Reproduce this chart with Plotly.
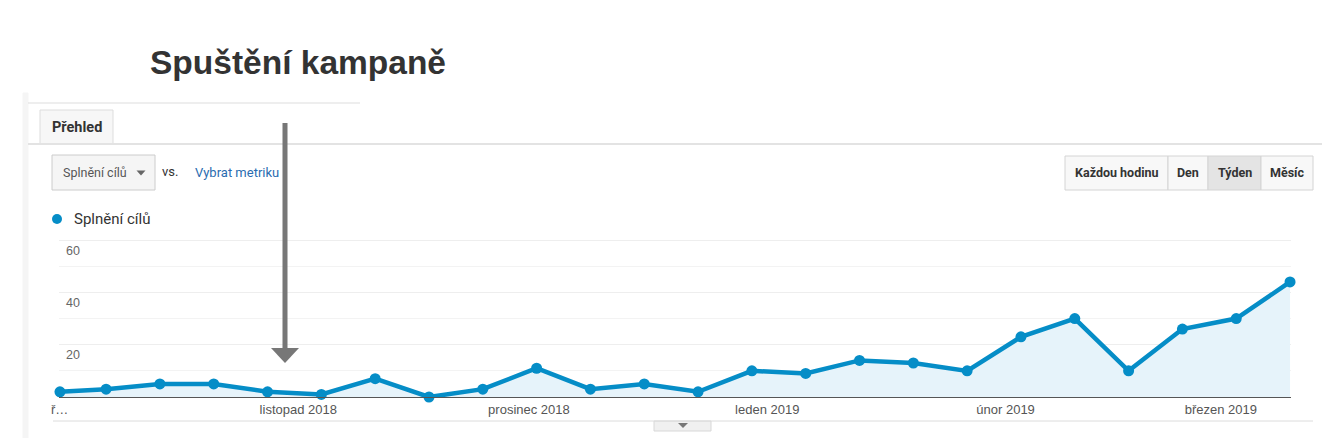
import plotly.graph_objects as go

# weekly data (first point = start of range, then week start dates) - Splnění cílů
weeks = ["2018-10-01", "2018-10-07", "2018-10-14", "2018-10-21", "2018-10-28",
         "2018-11-04", "2018-11-11", "2018-11-18", "2018-11-25", "2018-12-02",
         "2018-12-09", "2018-12-16", "2018-12-23", "2018-12-30", "2019-01-06",
         "2019-01-13", "2019-01-20", "2019-01-27", "2019-02-03", "2019-02-10",
         "2019-02-17", "2019-02-24", "2019-03-03", "2019-03-10"]
goals = [2, 3, 5, 5, 2, 1, 7, 0, 3, 11, 3, 5, 2, 10, 9, 14, 13, 10, 23, 30, 10, 26, 30, 44]

month_ticks = ["2018-10-01", "2018-11-01", "2018-12-01", "2019-01-01", "2019-02-01", "2019-03-01"]
month_labels = ["ř…", "listopad 2018", "prosinec 2018", "leden 2019", "únor 2019", "březen 2019"]
y_ticks = [20, 40, 60]
y_minor = [10, 30, 50]

W, H = 1331, 438
BLUE = "#058dc7"


# pixel -> paper helpers (margins are 0, so paper = whole page)
def px(x):
    return x / W


def py(y):
    return 1 - y / H


fig = go.Figure()
fig.add_trace(go.Scatter(
    x=weeks, y=goals, mode="lines+markers",
    line=dict(color=BLUE, width=4.5),
    marker=dict(color=BLUE, size=11),
    fill="tozeroy", fillcolor="#e6f3fa",
    cliponaxis=False, hoverinfo="x+y",
))

shapes = []
annotations = []


def rect(x0, y0, x1, y1, fill, line="#d6d6d6", lw=1):
    shapes.append(dict(type="rect", xref="paper", yref="paper",
                       x0=px(x0), x1=px(x1), y0=py(y0), y1=py(y1),
                       fillcolor=fill, line=dict(color=line, width=lw), layer="below"))


def hline(x0, x1, y, color="#dddddd", lw=1):
    shapes.append(dict(type="line", xref="paper", yref="paper",
                       x0=px(x0), x1=px(x1), y0=py(y), y1=py(y),
                       line=dict(color=color, width=lw)))


def text(x, y, s, size=12, color="#333333", bold=False, anchor="left", family="Roboto"):
    annotations.append(dict(xref="paper", yref="paper", x=px(x), y=py(y), text=("<b>%s</b>" % s) if bold else s,
                            showarrow=False, xanchor=anchor, yanchor="middle",
                            font=dict(size=size, color=color, family=family)))


def tri(cx, cy, w, h, color):
    p = "M %f %f L %f %f L %f %f Z" % (px(cx - w / 2), py(cy - h / 2), px(cx + w / 2), py(cy - h / 2), px(cx), py(cy + h / 2))
    shapes.append(dict(type="path", xref="paper", yref="paper", path=p,
                       fillcolor=color, line=dict(width=0)))


# left panel strip + frame lines
rect(23, 93, 28, 438, "#f5f5f5", line="#f5f5f5")
hline(28, 360, 103)
hline(28, 1322, 144, color="#e3e3e3", lw=2)

# tab
rect(40, 110, 113, 144, "#f7f7f7", line="#dddddd")
text(50, 127, "Přehled", size=14.5, color="#333333", bold=True)

# metric dropdown
rect(52, 155, 155, 190, "#f5f5f5", line="#cccccc")
text(61, 173, "Splnění cílů", size=12.5, color="#555555")
tri(141, 173, 9, 5, "#666666")
text(160, 171, "vs.", size=13, color="#333333")
text(193, 173, "Vybrat metriku", size=13, color="#2a6cb0")

# interval buttons
buttons = [("Každou hodinu", 1065, 1168, "#f8f8f8"), ("Den", 1168, 1208, "#f8f8f8"),
           ("Týden", 1208, 1261, "#e4e4e4"), ("Měsíc", 1261, 1313, "#f8f8f8")]
for label, x0, x1, fill in buttons:
    rect(x0, 156, x1, 190, fill, line="#d4d4d4")
    text((x0 + x1) / 2, 173, label, size=12.5, color="#333333", bold=True, anchor="center")

# legend
shapes.append(dict(type="circle", xref="paper", yref="paper",
                   x0=px(52), x1=px(62), y0=py(214), y1=py(224),
                   fillcolor=BLUE, line=dict(width=0)))
text(72, 219, "Splnění cílů", size=15, color="#333333")

# bottom frame + toggle tab
hline(53, 1313, 421, color="#dcdcdc")
rect(654, 421, 711, 431, "#f0f0f0", line="#d8d8d8")
tri(683, 425.5, 10, 5, "#777777")

# title
text(148, 62, "Spuštění kampaně", size=33.5, color="#333333", bold=True, family="Liberation Sans, Arial")

# first (truncated) month label, pinned to the axis start
annotations.append(dict(xref="x", yref="paper", x=month_ticks[0], y=py(409), text=month_labels[0],
                        showarrow=False, xanchor="center", yanchor="middle",
                        font=dict(size=13, color="#555555", family="Liberation Sans, Arial")))

# arrow marking campaign launch
shapes.append(dict(type="line", xref="paper", yref="paper",
                   x0=px(285), x1=px(285), y0=py(123), y1=py(350),
                   line=dict(color="#777777", width=5)))
tri(285, 355.5, 28, 15, "#777777")

fig.update_layout(
    width=W, height=H, autosize=False,
    margin=dict(l=0, r=0, t=0, b=0, autoexpand=False),
    paper_bgcolor="white", plot_bgcolor="white",
    showlegend=False,
    shapes=shapes, annotations=annotations,
    font=dict(family="Liberation Sans, Arial", size=12, color="#555555"),
    xaxis=dict(
        domain=[px(59), px(1291)],
        type="date", range=["2018-09-30 21:00", "2019-03-10 03:00"],
        tickmode="array", tickvals=month_ticks[1:], ticktext=month_labels[1:],
        showgrid=False, zeroline=False, automargin=False,
        showline=True, linecolor="#555555", linewidth=1,
        ticks="", tickfont=dict(size=13, color="#555555"),
    ),
    yaxis=dict(
        domain=[py(397), py(237)],
        range=[0, 61.2],
        tickmode="array", tickvals=y_ticks,
        showgrid=True, gridcolor="#eeeeee", gridwidth=1,
        minor=dict(tickvals=y_minor, showgrid=True, gridcolor="#f3f3f3"),
        zeroline=False, showline=False, automargin=False,
        ticks="", ticklabelposition="inside", ticklabelshift=10, ticklabelstandoff=4,
        tickfont=dict(size=12.5, color="#666666"),
    ),
)

fig.write_html("out.html", config={"displayModeBar": False},
               post_script="document.body.style.margin='0';")
